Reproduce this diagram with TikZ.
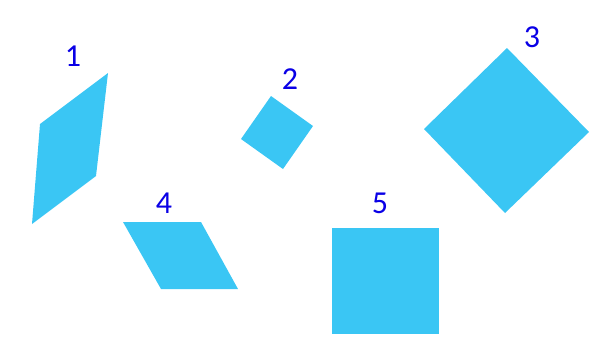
\documentclass[tikz,border=0pt]{standalone}
\usepackage{fontspec}
\setmainfont{Carlito}
\definecolor{shapeblue}{HTML}{3AC6F4}
\definecolor{labelblue}{HTML}{0A00E6}
\begin{document}
\begin{tikzpicture}[x=1pt,y=-1pt,
  shp/.style={fill=shapeblue,draw=none},
  lbl/.style={text=labelblue,font=\fontsize{32}{38}\selectfont,inner sep=0pt,anchor=center}]
\useasboundingbox (0,0) rectangle (605,346);
% shape 1
\fill[shp] (40,124) -- (108,73) -- (96,176) -- (32,224) -- cycle;
\node[lbl] (l1) at (73,56) {1};
% shape 2
\fill[shp] (271,96) -- (313,126) -- (283,169) -- (241,139) -- cycle;
\node[lbl] (l2) at (290,79) {2};
% shape 3
\fill[shp] (507,48) -- (589,132) -- (505,213) -- (424,129) -- cycle;
\node[lbl] (l3) at (532,37) {3};
% shape 4
\fill[shp] (123,222) -- (201,222) -- (238,289) -- (161,289) -- cycle;
\node[lbl] (l4) at (164,203) {4};
% shape 5
\fill[shp] (332,228) rectangle (439,334);
\node[lbl] (l5) at (380,203) {5};
\end{tikzpicture}
\end{document}
